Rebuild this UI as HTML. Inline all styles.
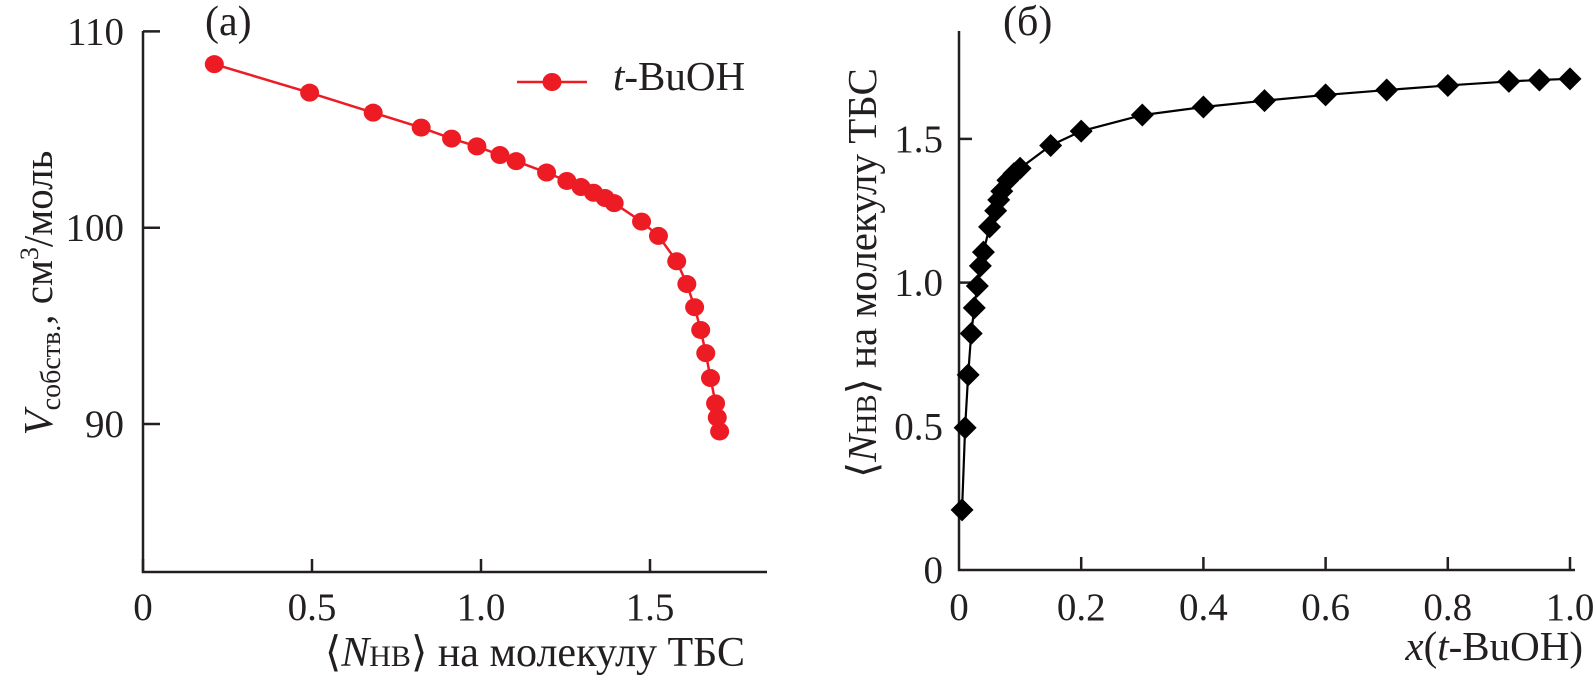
<!DOCTYPE html>
<html><head><meta charset="utf-8"><style>
html,body{margin:0;padding:0;background:#fff;}
svg{display:block;font-family:"Liberation Serif","DejaVu Serif",serif;}
</style></head><body>
<svg id="fig" width="1596" height="681" viewBox="0 0 1596 681" xmlns="http://www.w3.org/2000/svg"></svg>
<script>
// Panel (a) data
const aX = [0.211,0.493,0.681,0.823,0.913,0.988,1.056,1.104,1.194,1.254,1.296,1.333,1.367,1.394,1.475,1.525,1.579,1.609,1.632,1.650,1.665,1.679,1.694,1.699,1.706];
const aY = [108.33,106.88,105.86,105.10,104.54,104.14,103.70,103.39,102.81,102.38,102.07,101.78,101.51,101.25,100.31,99.58,98.29,97.13,95.95,94.79,93.61,92.34,91.05,90.33,89.62];
const aXTicks = [0,0.5,1.0,1.5];
const aXTickLabels = ["0","0.5","1.0","1.5"];
const aYTicks = [90,100,110];
const aYTickLabels = ["90","100","110"];
// Panel (б) data
const bX = [0.005,0.01,0.015,0.02,0.025,0.03,0.035,0.04,0.05,0.06,0.065,0.07,0.08,0.09,0.1,0.15,0.2,0.3,0.4,0.5,0.6,0.7,0.8,0.9,0.95,1.0];
const bY = [0.209,0.495,0.679,0.823,0.912,0.988,1.058,1.106,1.194,1.25,1.288,1.318,1.356,1.379,1.398,1.477,1.527,1.583,1.611,1.633,1.653,1.670,1.686,1.700,1.705,1.709];
const bXTicks = [0,0.2,0.4,0.6,0.8,1.0];
const bXTickLabels = ["0","0.2","0.4","0.6","0.8","1.0"];
const bYTicks = [0,0.5,1.0,1.5];
const bYTickLabels = ["0","0.5","1.0","1.5"];

const NS="http://www.w3.org/2000/svg";
const svg=document.getElementById('fig');
function mk(tag,attrs,parent){const e=document.createElementNS(NS,tag);for(const k in attrs)e.setAttribute(k,attrs[k]);(parent||svg).appendChild(e);return e;}

// axis functions
const ax=v=>143+v*338;
const ay=v=>572-(v-82.46)*19.63;
const bx=v=>959+v*611;
const by=v=>570-v*287.4;

// ---- Panel (a) ----
const gA=mk('g',{});


const aAxes=mk('path',{d:`M143 31 V572 H767`,fill:'none',stroke:'#231f20','stroke-width':2.5},gA);


aXTicks.forEach((t,i)=>{
  const l=mk('line',{x1:ax(t),x2:ax(t),y1:572,y2:559,stroke:'#231f20','stroke-width':2.5},gA);
  
  
  const tx=mk('text',{x:ax(t),y:620,'font-size':39,'text-anchor':'middle',fill:'#231f20'},gA);
  tx.textContent=aXTickLabels[i];
  
  
});
aYTicks.forEach((t,i)=>{
  const l=mk('line',{x1:143,x2:160,y1:ay(t),y2:ay(t),stroke:'#231f20','stroke-width':2.5},gA);
  
  
  const tx=mk('text',{x:124,y:ay(t)+13,'font-size':39,'text-anchor':'end',fill:'#231f20'},gA);
  tx.textContent=aYTickLabels[i];
  
  
});
const aLine=mk('polyline',{points:aX.map((x,i)=>ax(x)+','+ay(aY[i])).join(' '),fill:'none',stroke:'#ed1c24','stroke-width':2.5},gA);


aX.forEach((x,i)=>{
  const c=mk('ellipse',{cx:ax(x),cy:ay(aY[i]),rx:9.5,ry:9,fill:'#ed1c24'},gA);
  
  
});
</script>
<script>
(function(){
const s=document.getElementById('fig');
s.insertAdjacentHTML('beforeend',`
<g>
 <line x1="517" y1="82" x2="587" y2="82" stroke="#ed1c24" stroke-width="2.5"/>
 <ellipse cx="552" cy="82" rx="9.5" ry="9" fill="#ed1c24"/>
 <text x="613" y="90" font-size="41" fill="#231f20"><tspan font-style="italic">t</tspan>-BuOH</text>
</g>
<text x="205" y="35" font-size="42" fill="#231f20">(a)</text>
<text x="745" y="666" font-size="42" fill="#231f20" text-anchor="end">⟨<tspan font-style="italic">N</tspan><tspan font-size="30">НВ</tspan>⟩ на молекулу ТБС</text>
<text transform="translate(52,293) rotate(-90)" font-size="41" fill="#231f20" text-anchor="middle"><tspan font-style="italic">V</tspan><tspan font-size="28" dy="8">собств.</tspan><tspan dy="-8">, см</tspan><tspan font-size="26" dy="-14">3</tspan><tspan dy="14">/моль</tspan></text>
<text x="1003" y="35" font-size="42" fill="#231f20">(б)</text>
<text x="1583" y="660" font-size="41" fill="#231f20" text-anchor="end"><tspan font-style="italic">x</tspan>(<tspan font-style="italic">t</tspan>-BuOH)</text>
<text transform="translate(876,273) rotate(-90)" font-size="41" fill="#231f20" text-anchor="middle">⟨<tspan font-style="italic">N</tspan><tspan font-size="29">НВ</tspan>⟩ на молекулу ТБС</text>
`);
})();
</script>
<script>
(function(){
const gB=mk('g',{});


const bAxes=mk('path',{d:`M959 31 V570 H1575`,fill:'none',stroke:'#231f20','stroke-width':2.5},gB);


bXTicks.forEach((t,i)=>{
  if(t>0){
  const l=mk('line',{x1:bx(t),x2:bx(t),y1:570,y2:557,stroke:'#231f20','stroke-width':2.5},gB);
  
  }
  const tx=mk('text',{x:bx(t),y:620,'font-size':39,'text-anchor':'middle',fill:'#231f20'},gB);
  tx.textContent=bXTickLabels[i];
  
  
});
bYTicks.forEach((t,i)=>{
  if(t>0){
  const l=mk('line',{x1:959,x2:972,y1:by(t),y2:by(t),stroke:'#231f20','stroke-width':2.5},gB);
  
  }
  const tx=mk('text',{x:943,y:by(t)+13,'font-size':39,'text-anchor':'end',fill:'#231f20'},gB);
  tx.textContent=bYTickLabels[i];
  
  
});
const bLine=mk('polyline',{points:bX.map((x,i)=>bx(x)+','+by(bY[i])).join(' '),fill:'none',stroke:'#000','stroke-width':2.2},gB);


bX.forEach((x,i)=>{
  const cx=bx(x),cy=by(bY[i]),r=11.5;
  const d=mk('polygon',{points:`${cx},${cy-r} ${cx+r},${cy} ${cx},${cy+r} ${cx-r},${cy}`,fill:'#000'},gB);
  
  
});
})();
</script>
</body></html>
